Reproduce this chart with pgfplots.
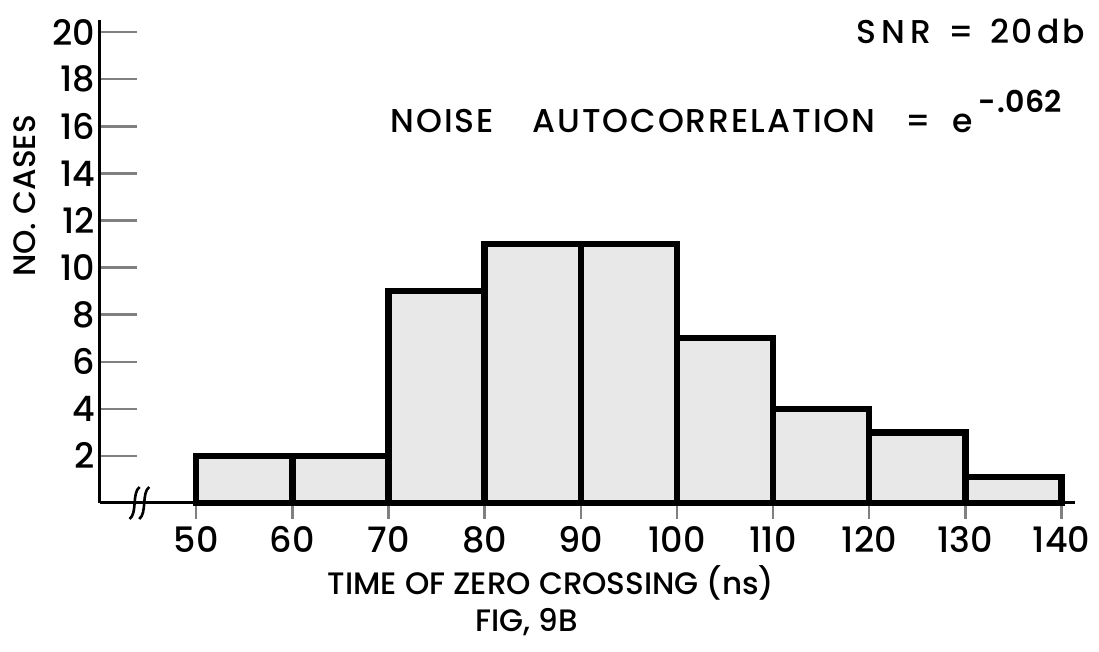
\documentclass[border=0pt]{standalone}
\usepackage{pgfplots}
\pgfplotsset{compat=1.18}
\usepackage{fontspec}
\setmainfont{Poppins Medium}[BoldFont={Poppins SemiBold}]
\newcommand{\lab}{\fontsize{15.5}{18}\selectfont}
\newcommand{\tlab}{\fontsize{17.5}{20}\selectfont}
\newcommand{\ttl}{\fontsize{16.5}{20}\selectfont\addfontfeatures{LetterSpace=6}}
\begin{document}
\begin{tikzpicture}
\useasboundingbox (-50pt,-74.5pt) rectangle (499.5pt,251.5pt);
\begin{axis}[
  at={(0,0)}, anchor=south west,
  scale only axis,
  width=487.5pt, height=241.3pt,
  xmin=40, xmax=141.4, ymin=0, ymax=20.5,
  axis lines*=left,
  axis line style={line width=1.5pt},
  xtick={50,60,...,140},
  ytick={2,4,...,20},
  tick align=inside,
  xtick pos=bottom, ytick pos=left,
  major tick length=18.5pt,
  ytick style={line width=1.2pt},
  xtick style={line width=1.2pt, /pgfplots/major tick length=8pt, yshift=-8pt},
  /pgf/number format/assume math mode=true,
  ticklabel style={font=\tlab},
  xticklabel style={yshift=-8pt},
  yticklabel style={xshift=1pt},
  clip=false,
]
\addplot[ybar interval, fill=black!9, draw=black, line width=3.2pt]
  coordinates {(50,2) (60,2) (70,9) (80,11) (90,11) (100,7) (110,4) (120,3) (130,1.1) (140,1.1)};
% axis break mark
\draw[line width=1.3pt] (axis cs:43.6,0) ++(-2.5pt,-8pt) .. controls +(4pt,3pt) and +(-4pt,-3pt) .. ++(5pt,16pt);
\draw[line width=1.3pt] (axis cs:44.6,0) ++(-2.5pt,-8pt) .. controls +(4pt,3pt) and +(-4pt,-3pt) .. ++(5pt,16pt);
\end{axis}
\node[anchor=base east, font=\ttl, inner sep=0pt] at (492.5pt,229.5pt) {S\,N\,R\enspace=\enspace 20\,db};
\node[anchor=base west, font=\ttl, inner sep=0pt] at (145pt,185pt) {NOISE};
\node[anchor=base west, font=\ttl, inner sep=0pt] at (216pt,185pt) {AUTOCORRELATION};
\node[anchor=base, font=\ttl, inner sep=0pt] at (409pt,185pt) {=};
\node[anchor=base west, font=\ttl, inner sep=0pt] at (426pt,185pt) {e};
\node[anchor=base west, font=\fontsize{15}{17}\selectfont\bfseries, inner sep=0pt] at (439pt,195pt) {-\kern1pt.062};
\node[rotate=90, font=\lab] at (-37.5pt,153.5pt) {NO.\ CASES};
\node[font=\lab] at (225.5pt,-40pt) {TIME OF ZERO CROSSING (ns)};
\node[font=\lab] at (213.5pt,-59.5pt) {FIG, 9B};
\end{tikzpicture}
\end{document}
